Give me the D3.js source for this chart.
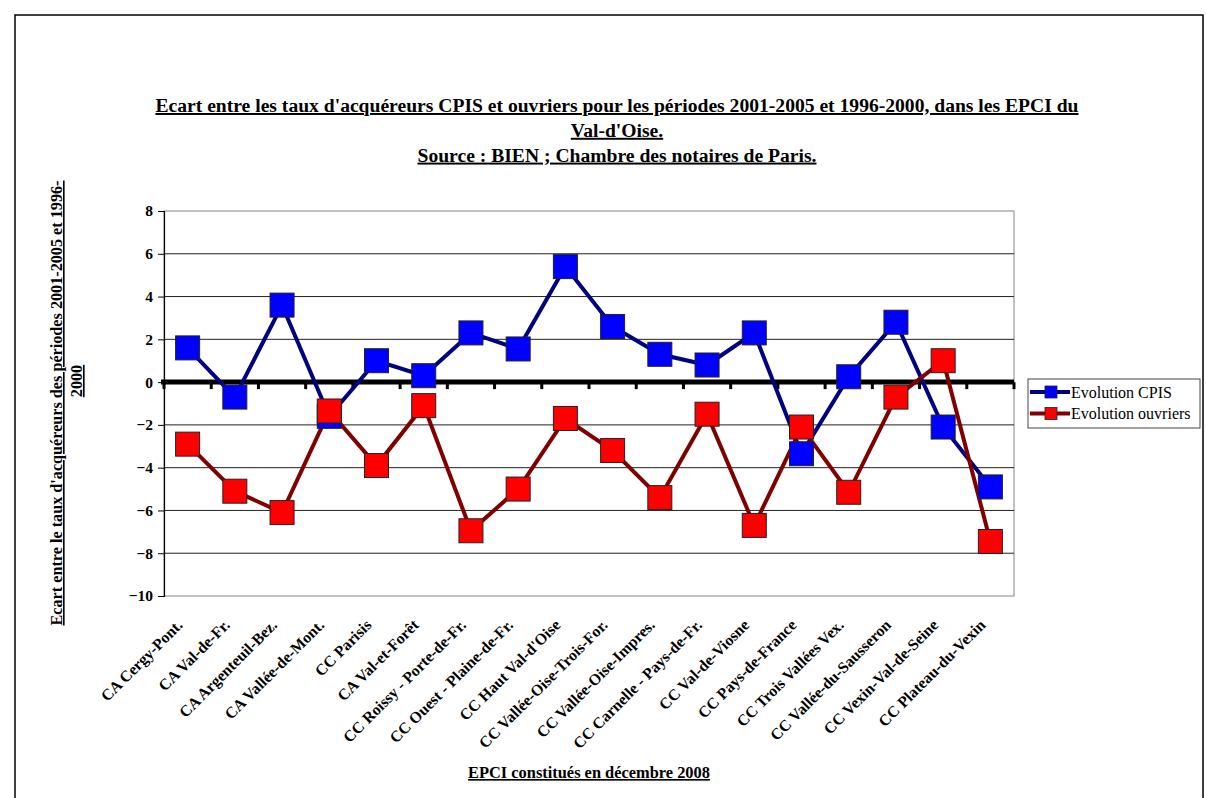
<!DOCTYPE html>
<html><head><meta charset="utf-8">
<script src="https://cdn.jsdelivr.net/npm/d3@7"></script>
<style>
body{margin:0;background:#fff;}
text{font-family:"Liberation Serif","Times New Roman",serif;}
</style></head>
<body><svg id="c" width="1206" height="798"></svg>
<script>
const categories = ["CA Cergy-Pont.","CA Val-de-Fr.","CA Argenteuil-Bez.","CA Vallée-de-Mont.","CC Parisis","CA Val-et-Forêt","CC Roissy - Porte-de-Fr.","CC Ouest - Plaine-de-Fr.","CC Haut Val-d'Oise","CC Vallée-Oise-Trois-For.","CC Vallée-Oise-Impres.","CC Carnelle - Pays-de-Fr.","CC Val-de-Viosne","CC Pays-de-France","CC Trois Vallées Vex.","CC Vallée-du-Sausseron","CC Vexin-Val-de-Seine","CC Plateau-du-Vexin"];
const cpis = [1.6,-0.7,3.6,-1.6,1.0,0.3,2.3,1.55,5.4,2.6,1.3,0.8,2.3,-3.35,0.25,2.8,-2.1,-4.9];
const ouvriers = [-2.9,-5.1,-6.1,-1.35,-3.9,-1.1,-6.95,-5.0,-1.7,-3.2,-5.4,-1.5,-6.7,-2.1,-5.15,-0.7,1.0,-7.45];
const yTicks = [8,6,4,2,0,-2,-4,-6,-8,-10];
const seriesNames = ["Evolution CPIS","Evolution ouvriers"];
const titleLines = ["Ecart entre les taux d'acquéreurs CPIS et ouvriers pour les périodes 2001-2005 et 1996-2000, dans les EPCI du","Val-d'Oise.","Source : BIEN ; Chambre des notaires de Paris."];
const yTitleLines = ["Ecart entre le taux d'acquéreurs des périodes 2001-2005 et 1996-","2000"];
const xTitle = "EPCI constitués en décembre 2008";

const svg = d3.select("#c");
// outer frame
svg.append("path").attr("d","M15,798 V15 H1203 V798").attr("fill","none").attr("stroke","#000").attr("stroke-width",1.5);

const L=164,R=1014,T=211,B=596;
const x = d3.scaleBand().domain(categories).range([L,R]).padding(0);
const y = d3.scaleLinear().domain([-10,8]).range([B,T]);

// plot area border (grey)
svg.append("rect").attr("x",L).attr("y",T).attr("width",R-L).attr("height",B-T).attr("fill","none").attr("stroke","#999").attr("stroke-width",1.2);
// gridlines
svg.append("g").selectAll("line").data(yTicks.filter(d=>d!==0 && d!==-10 && d!==8)).join("line")
  .attr("x1",L).attr("x2",R).attr("y1",d=>y(d)).attr("y2",d=>y(d)).attr("stroke","#222").attr("stroke-width",1);

// y axis
const yAxis = d3.axisLeft(y).tickValues(yTicks).tickSize(6).tickFormat(d3.format("d"));
const gy = svg.append("g").attr("transform",`translate(${L},0)`).call(yAxis);
gy.select(".domain").attr("stroke","#000").attr("stroke-width",1.2);
gy.selectAll(".tick line").attr("stroke","#000");
gy.selectAll(".tick text").attr("font-family","Liberation Serif").attr("font-weight","bold").attr("font-size",15.5).attr("fill","#000").attr("x",-11);

// zero axis with category ticks
const xAxis = d3.axisBottom(x).tickSize(0).tickFormat(()=> "");
const gx = svg.append("g").attr("transform",`translate(0,${y(0)})`).call(xAxis);
gx.select(".domain").remove();
gx.selectAll(".tick text").remove();
svg.append("line").attr("x1",L-3).attr("x2",R).attr("y1",y(0)).attr("y2",y(0)).attr("stroke","#000").attr("stroke-width",5);
const bounds = categories.map(c=>x(c)).concat([R]);
svg.append("g").selectAll("rect").data(bounds).join("rect")
  .attr("x",d=>d-1.5).attr("y",y(0)).attr("width",3).attr("height",7).attr("fill","#000");

// x labels
svg.append("g").selectAll("text").data(categories).join("text")
  .attr("transform",d=>`translate(${x(d)+x.bandwidth()/2-4},${626}) rotate(-45)`)
  .attr("text-anchor","end").attr("font-weight","bold").attr("font-size",15.8).text(d=>d);

// lines and markers
const series = [
  {name:seriesNames[0], values:cpis, line:"#000080", fill:"#0000FF"},
  {name:seriesNames[1], values:ouvriers, line:"#800000", fill:"#FF0000"}
];
const lineGen = d3.line().x((d,i)=>x(categories[i])+x.bandwidth()/2).y(d=>y(d));
series.forEach(s=>{
  svg.append("path").datum(s.values).attr("d",lineGen).attr("fill","none").attr("stroke",s.line).attr("stroke-width",4);
});
series.forEach(s=>{
  svg.append("g").selectAll("rect").data(s.values).join("rect")
    .attr("x",(d,i)=>x(categories[i])+x.bandwidth()/2-12).attr("y",d=>y(d)-12)
    .attr("width",24).attr("height",24).attr("fill",s.fill).attr("stroke","#222").attr("stroke-width",1);
});

// title
const tt = svg.append("text").attr("text-anchor","middle").attr("font-weight","bold").attr("font-size",19.6).attr("text-decoration","underline");
titleLines.forEach((l,i)=> tt.append("tspan").attr("x",617).attr("y",112+i*24.8).text(l));

// y title
const yt = svg.append("g").attr("font-weight","bold").attr("font-size",16.2).attr("text-decoration","underline");
yt.append("text").attr("transform","translate(62,403) rotate(-90)").attr("text-anchor","middle").text(yTitleLines[0]);
yt.append("text").attr("transform","translate(82,381) rotate(-90)").attr("text-anchor","middle").text(yTitleLines[1]);

// x title
svg.append("text").attr("x",589).attr("y",778).attr("text-anchor","middle").attr("font-weight","bold").attr("font-size",16.4).attr("text-decoration","underline").text(xTitle);

// legend
const lg = svg.append("g");
lg.append("rect").attr("x",1028).attr("y",379).attr("width",172).attr("height",49).attr("fill","#fff").attr("stroke","#444").attr("stroke-width",1);
series.forEach((s,i)=>{
  const yy = 392+i*21.5;
  lg.append("line").attr("x1",1030).attr("x2",1070).attr("y1",yy).attr("y2",yy).attr("stroke",s.line).attr("stroke-width",4);
  lg.append("rect").attr("x",1045).attr("y",yy-6).attr("width",12).attr("height",12).attr("fill",s.fill).attr("stroke","#222").attr("stroke-width",0.8);
  lg.append("text").attr("x",1071).attr("y",yy+5.5).attr("font-size",16).text(s.name);
});
</script></body></html>
